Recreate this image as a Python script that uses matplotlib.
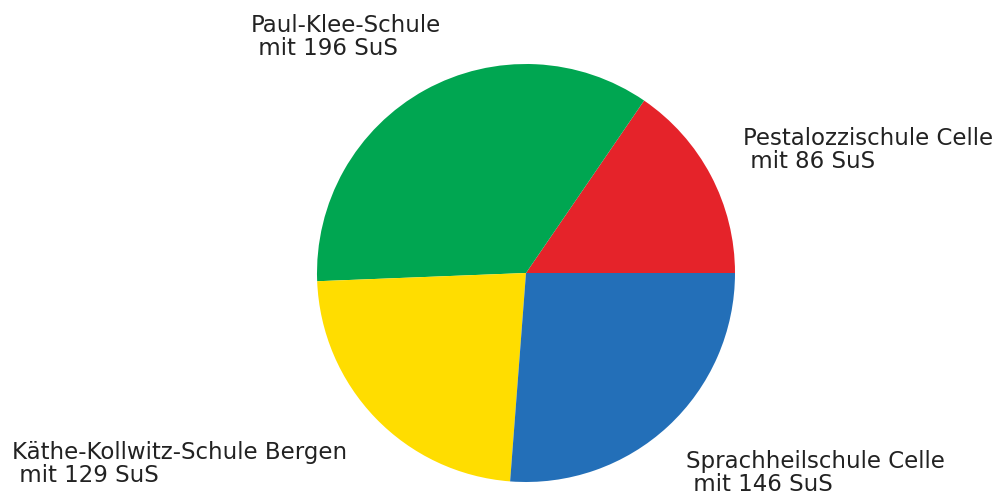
import matplotlib
matplotlib.use("Agg")
import matplotlib.pyplot as plt

schools = ["Pestalozzischule Celle", "Paul-Klee-Schule", "Käthe-Kollwitz-Schule Bergen", "Sprachheilschule Celle"]
students = [86, 196, 129, 146]
colors = ["#E5232A", "#00A651", "#FFDD00", "#236FB8"]
label_pos = [(743, 150), (251, 37), (12, 464), (686, 473)]  # pixel coords (left, v-center)

W, H = 999, 495
fig = plt.figure(figsize=(W / 100, H / 100), dpi=100)
ax = fig.add_axes([0, 0, 1, 1])

ax.pie(students, colors=colors, startangle=0, counterclock=True,
       center=(526, H - 273), radius=209, frame=True,
       wedgeprops=dict(linewidth=0))
ax.set_xlim(0, W)
ax.set_ylim(0, H)
ax.set_aspect("auto")
ax.axis("off")

for name, n, (x, y) in zip(schools, students, label_pos):
    ax.text(x, H - y, f"{name}\n mit {n} SuS", ha="left", va="center",
            fontsize=16.5, color="#222222", linespacing=1.0)

fig.savefig("out.png", dpi=100)
